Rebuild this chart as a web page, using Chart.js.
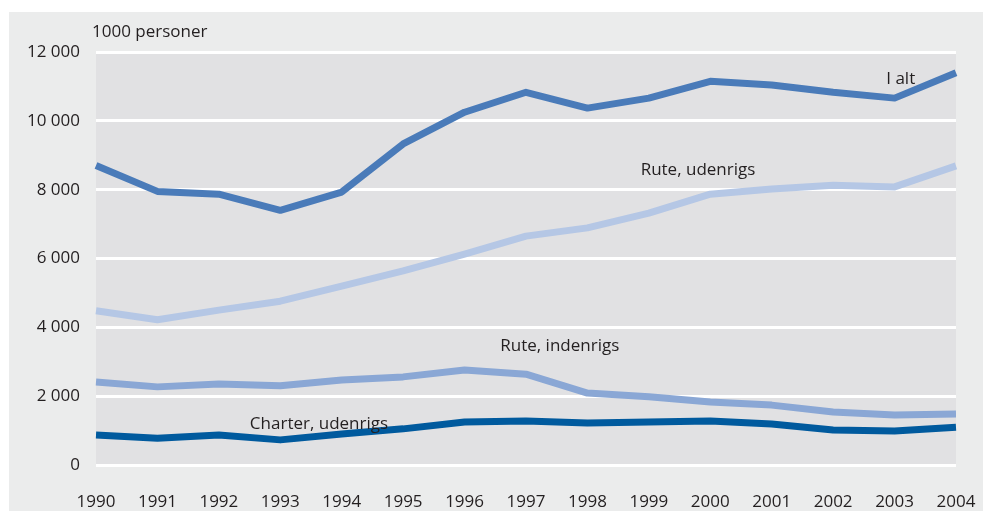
<!DOCTYPE html>
<html>
<head>
<meta charset="utf-8">
<script src="https://cdn.jsdelivr.net/npm/chart.js@4.4.1/dist/chart.umd.min.js"></script>
<style>
  html, body { margin: 0; padding: 0; background: #ffffff; }
  #wrap { width: 983px; height: 511px; position: relative; }
</style>
</head>
<body>
<div id="wrap"><canvas id="flyChart"></canvas></div>
<script>
const years = ['1990', '1991', '1992', '1993', '1994', '1995', '1996', '1997', '1998', '1999', '2000', '2001', '2002', '2003', '2004'];
const iAlt = [8700, 7950, 7870, 7400, 7930, 9330, 10250, 10830, 10370, 10660, 11150, 11040, 10830, 10660, 11400];
const ruteUdenrigs = [4480, 4220, 4500, 4760, 5200, 5640, 6130, 6650, 6890, 7320, 7870, 8020, 8130, 8080, 8690];
const ruteIndenrigs = [2410, 2270, 2350, 2300, 2470, 2560, 2760, 2640, 2090, 1980, 1830, 1740, 1540, 1450, 1480];
const charterUdenrigs = [870, 780, 870, 730, 900, 1050, 1250, 1280, 1220, 1250, 1280, 1190, 1020, 990, 1100];
const yTicks = [0, 2000, 4000, 6000, 8000, 10000, 12000];

// series names written next to the lines: [text, x position (year index), y value]
const lineLabels = [
    ['I alt', 13.1, 11200],
    ['Rute, udenrigs', 9.8, 8570],
    ['Rute, indenrigs', 7.55, 3460],
    ['Charter, udenrigs', 3.63, 1190]
];

const FONT = '"Open Sans", "Noto Sans", sans-serif';

const backdrop = {
    id: 'backdrop',
    beforeDraw(chart) {
        const { ctx, chartArea } = chart;
        ctx.save();
        ctx.fillStyle = '#ebecec';
        ctx.fillRect(9, 12, chart.width - 9, chart.height - 12);
        ctx.fillStyle = '#e1e1e3';
        ctx.fillRect(chartArea.left, chartArea.top, chartArea.right - chartArea.left, chartArea.bottom - chartArea.top);
        ctx.restore();
    }
};

const labels = {
    id: 'labels',
    afterDatasetsDraw(chart) {
        const { ctx, scales } = chart;
        ctx.save();
        ctx.fillStyle = '#231f20';
        ctx.font = '17px ' + FONT;
        ctx.textAlign = 'center';
        ctx.textBaseline = 'middle';
        lineLabels.forEach(([text, xi, yv]) => {
            ctx.fillText(text, scales.x.getPixelForValue(xi), scales.y.getPixelForValue(yv));
        });
        ctx.textAlign = 'left';
        ctx.fillText('1000 personer', 92, 32);
        ctx.restore();
    }
};

function line(label, data, color) {
    return {
        label: label,
        data: data,
        borderColor: color,
        backgroundColor: color,
        borderWidth: 7,
        pointRadius: 0,
        tension: 0,
        borderJoinStyle: 'round'
    };
}

new Chart(document.getElementById('flyChart'), {
    type: 'line',
    data: {
        labels: years,
        datasets: [
            line('Charter, udenrigs', charterUdenrigs, '#005a9e'),
            line('Rute, indenrigs', ruteIndenrigs, '#8aa7d5'),
            line('Rute, udenrigs', ruteUdenrigs, '#b5c7e5'),
            line('I alt', iAlt, '#4a7bb9')
        ]
    },
    options: {
        responsive: true,
        maintainAspectRatio: false,
        animation: false,
        layout: { padding: { left: 9, right: 27, top: 52, bottom: 0 } },
        plugins: {
            legend: { display: false },
            tooltip: { enabled: false }
        },
        scales: {
            x: {
                offset: false,
                grid: { display: false },
                border: { display: false },
                ticks: {
                    color: '#231f20',
                    font: { family: FONT, size: 17 },
                    padding: 19,
                    maxRotation: 0,
                    autoSkip: false
                },
                afterFit(scale) {
                    scale.height = 46;
                    scale.paddingLeft = 0;
                    scale.paddingRight = 0;
                }
            },
            y: {
                min: 0,
                max: 12000,
                afterBuildTicks(scale) { scale.ticks = yTicks.map(v => ({ value: v })); },
                grid: { color: '#ffffff', lineWidth: 3, drawTicks: false },
                border: { display: false },
                ticks: {
                    color: '#231f20',
                    font: { family: FONT, size: 17 },
                    padding: 16,
                    callback: v => v.toLocaleString('en-US').replace(/,/g, ' ')
                },
                afterFit(scale) { scale.width = 87; }
            }
        }
    },
    plugins: [backdrop, labels]
});
</script>
</body>
</html>
